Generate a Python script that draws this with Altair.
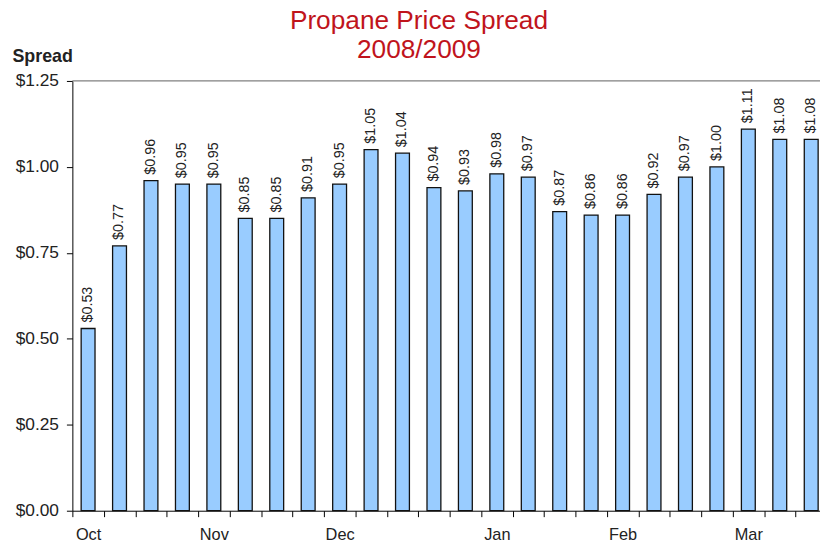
import altair as alt
import pandas as pd

weeks = list(range(24))
spread = [0.53, 0.77, 0.96, 0.95, 0.95, 0.85, 0.85, 0.91, 0.95, 1.05, 1.04, 0.94,
          0.93, 0.98, 0.97, 0.87, 0.86, 0.86, 0.92, 0.97, 1.00, 1.11, 1.08, 1.08]
month_labels = ["Oct", "", "", "", "Nov", "", "", "", "Dec", "", "", "", "",
                "Jan", "", "", "", "Feb", "", "", "", "Mar", "", ""]
y_ticks = [0, 0.25, 0.5, 0.75, 1.0, 1.25]

df = pd.DataFrame({"week": weeks, "spread": spread})
label_js = "[" + ",".join(f"'{m}'" for m in month_labels) + "]"

FONT = "Liberation Sans"

x = alt.X(
    "week:O",
    scale=alt.Scale(paddingInner=0, paddingOuter=0),
    axis=alt.Axis(
        title=None, labelExpr=f"{label_js}[datum.value]", labelAngle=0,
        tickBand="extent", labelOverlap=False, labelFontSize=16.5,
        labelPadding=10, tickSize=6, domainColor="black", tickColor="black",
        labelColor="#222", labelFont=FONT,
    ),
)
y = alt.Y(
    "spread:Q",
    scale=alt.Scale(domain=[0, 1.25], nice=False),
    axis=alt.Axis(
        values=y_ticks, format="$.2f", grid=False, title="Spread",
        titleAngle=0, titleX=-61, titleY=-20, titleAlign="left",
        titleBaseline="alphabetic", titleFontSize=18, titleFontWeight="bold",
        titleFont=FONT, titleColor="#222",
        labelFontSize=17.5, labelFont=FONT, labelColor="#222", labelPadding=8,
        tickSize=6, domainColor="black", tickColor="black",
    ),
)

bars = alt.Chart(df).mark_bar(
    size=14, fill="#99CCFF", stroke="#111", strokeWidth=1.3
).encode(x=x, y=y)

texts = alt.Chart(df).mark_text(
    angle=270, align="left", baseline="middle", dx=6, fontSize=14.5,
    color="#222", font=FONT,
).encode(x=x, y=y, text=alt.Text("spread:Q", format="$.2f"))

top_rule = alt.Chart(pd.DataFrame({"top": [1.25]})).mark_rule(
    color="#808080", strokeWidth=1.3
).encode(y=alt.Y("top:Q", scale=alt.Scale(domain=[0, 1.25], nice=False)),
         x=alt.value(0), x2=alt.value(762))

chart = alt.layer(bars, texts, top_rule).properties(
    width=762,
    height=434,
    padding={"left": 65, "top": 71, "right": -7, "bottom": 37},
    autosize=alt.AutoSizeParams(type="none"),
    title=alt.Title(
        ["Propane Price Spread", "2008/2009"], fontSize=26.5, color="#C0141C",
        font=FONT, fontWeight="normal", anchor="middle", offset=-16,
        lineHeight=29, dx=-31,
    ),
).configure_view(stroke=None)

chart.save("out.html", embed_options={"renderer": "svg", "actions": False})
